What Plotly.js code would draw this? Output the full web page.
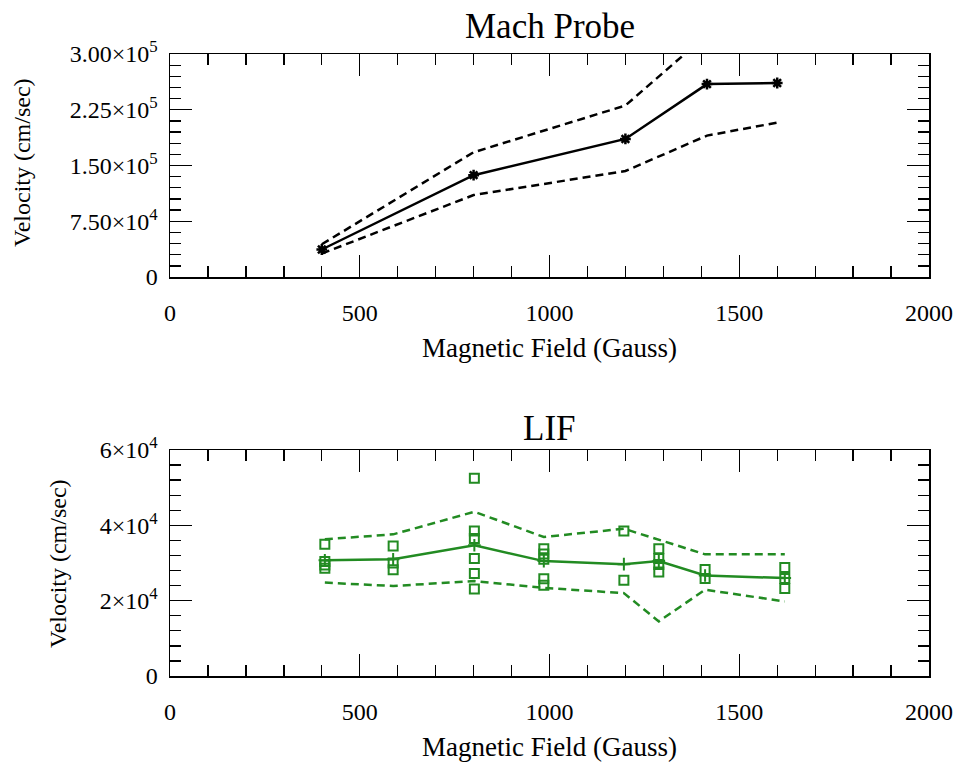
<!DOCTYPE html>
<html>
<head>
<meta charset="utf-8">
<script src="https://cdn.plot.ly/plotly-3.0.1.min.js"></script>
<style>html,body{margin:0;padding:0;background:#fff;}#chart{width:959px;height:765px;}</style>
</head>
<body>
<div id="chart"></div>
<script>
// ---- Mach Probe data ----
const machB     = [400, 800, 1200, 1415, 1600];
const machV     = [37000, 137000, 185700, 259500, 261000];
const machUpper = [44000, 167800, 230700, 326000, 332000];
const machLower = [31600, 110200, 142600, 190200, 207700];

// ---- LIF data ----
const lifB     = [408, 588, 802, 985, 1196, 1288, 1410, 1620];
const lifMean  = [30700, 31000, 34700, 30500, 29700, 30500, 26700, 26000];
const lifUpper = [36300, 37600, 43600, 36900, 39100, 36100, 32300, 32300];
const lifLower = [24800, 23900, 25200, 23400, 22000, 14500, 22900, 19800];

const lifPtsB = [408, 408, 408, 408,
                 588, 588, 588,
                 802, 802, 802, 802, 802, 802,
                 985, 985, 985, 985, 985,
                 1196, 1196,
                 1288, 1288, 1288, 1288,
                 1410, 1410,
                 1620, 1620, 1620];
const lifPtsV = [35000, 30400, 29500, 28600,
                 34500, 30000, 28200,
                 52500, 38500, 36500, 31200, 27200, 23100,
                 33800, 32400, 31000, 25800, 24100,
                 38500, 25400,
                 33800, 31200, 29600, 27600,
                 28300, 25900,
                 28800, 25900, 23200];

const machTicks = [0, 75000, 150000, 225000, 300000];
const machTickText = ['0', '7.50×10<sup>4</sup>', '1.50×10<sup>5</sup>', '2.25×10<sup>5</sup>', '3.00×10<sup>5</sup>'];
const lifTicks = [0, 20000, 40000, 60000];
const lifTickText = ['0', '2×10<sup>4</sup>', '4×10<sup>4</sup>', '6×10<sup>4</sup>'];
const xTicks = [0, 500, 1000, 1500, 2000];
const xTickText = ['0', '500', '1000', '1500', '2000'];

const topTitle = 'Mach Probe';
const bottomTitle = 'LIF';
const xTitle = 'Magnetic Field (Gauss)';
const yTitle = 'Velocity (cm/sec)';

const green = 'rgb(34,139,34)';
const serif = 'Liberation Serif, Times New Roman, serif';

const traces = [
  {x: machB, y: machUpper, xaxis: 'x', yaxis: 'y', mode: 'lines',
   line: {color: 'black', width: 2.5, dash: '8px,5px'}},
  {x: machB, y: machLower, xaxis: 'x', yaxis: 'y', mode: 'lines',
   line: {color: 'black', width: 2.5, dash: '8px,5px'}},
  {x: machB, y: machV, xaxis: 'x', yaxis: 'y', mode: 'lines+markers',
   line: {color: 'black', width: 2.5},
   marker: {symbol: 'asterisk-open', size: 9, color: 'black', line: {color: 'black', width: 2.5}}},
  {x: lifB, y: lifUpper, xaxis: 'x2', yaxis: 'y2', mode: 'lines',
   line: {color: green, width: 2.5, dash: '8px,5px'}},
  {x: lifB, y: lifLower, xaxis: 'x2', yaxis: 'y2', mode: 'lines',
   line: {color: green, width: 2.5, dash: '8px,5px'}},
  {x: lifB, y: lifMean, xaxis: 'x2', yaxis: 'y2', mode: 'lines+markers',
   line: {color: green, width: 2.5},
   marker: {symbol: 'cross-thin-open', size: 9, color: green, line: {color: green, width: 2}}},
  {x: lifPtsB, y: lifPtsV, xaxis: 'x2', yaxis: 'y2', mode: 'markers',
   marker: {symbol: 'square-open', size: 9, color: green, line: {color: green, width: 2}}}
];

function xAxis(anchor) {
  return {
    domain: [170/959, 929/959], anchor: anchor, range: [0, 2000],
    tickvals: xTicks, ticktext: xTickText,
    ticks: 'inside', ticklen: 22, tickwidth: 1.3, tickcolor: 'black',
    minor: {dtick: 100, ticks: 'inside', ticklen: 11, tickwidth: 1.3, tickcolor: 'black'},
    showline: true, linecolor: 'black', linewidth: 1.5, mirror: 'allticks',
    showgrid: false, zeroline: false,
    ticklabelstandoff: 14,
    tickfont: {family: serif, size: 24, color: 'black'}
  };
}
function yAxis(anchor, domain, range, tv, tt, dtickMinor) {
  return {
    domain: domain, anchor: anchor, range: range,
    tickvals: tv, ticktext: tt,
    ticks: 'inside', ticklen: 22, tickwidth: 1.3, tickcolor: 'black',
    minor: {dtick: dtickMinor, ticks: 'inside', ticklen: 11, tickwidth: 1.3, tickcolor: 'black'},
    showline: true, linecolor: 'black', linewidth: 1.5, mirror: 'allticks',
    showgrid: false, zeroline: false,
    ticklabelstandoff: 6,
    tickfont: {family: serif, size: 24, color: 'black'}
  };
}

function ann(text, xpx, ypx, size, angle) {
  return {text: text, xref: 'paper', yref: 'paper', x: xpx/959, y: 1 - ypx/765,
          xanchor: 'center', yanchor: 'middle', showarrow: false, textangle: angle || 0,
          font: {family: serif, size: size, color: 'black'}};
}

const layout = {
  width: 959, height: 765,
  margin: {l: 0, r: 0, t: 0, b: 0},
  paper_bgcolor: 'white', plot_bgcolor: 'white',
  showlegend: false,
  xaxis: xAxis('y'),
  yaxis: yAxis('x', [1 - 277/765, 1 - 54/765], [0, 300000], machTicks, machTickText, 15000),
  xaxis2: xAxis('y2'),
  yaxis2: yAxis('x2', [1 - 676/765, 1 - 450/765], [0, 60000], lifTicks, lifTickText, 4000),
  annotations: [
    ann(topTitle, 549.5, 27, 35),
    ann(bottomTitle, 549.5, 428, 35),
    ann(xTitle, 549.5, 348, 27),
    ann(xTitle, 549.5, 747, 27),
    ann(yTitle, 22, 163, 24, -90),
    ann(yTitle, 58, 564, 24, -90)
  ]
};

Plotly.newPlot('chart', traces, layout, {staticPlot: true, displayModeBar: false});
</script>
</body>
</html>
